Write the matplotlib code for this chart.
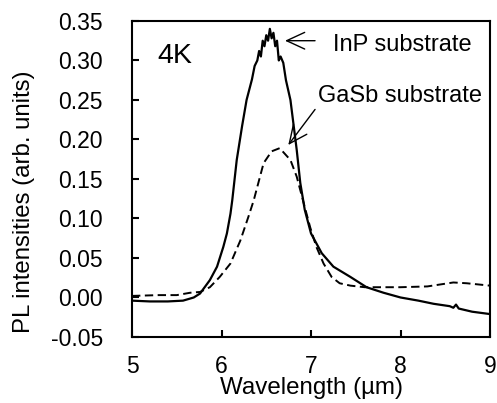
import matplotlib
matplotlib.use("Agg")
import matplotlib.pyplot as plt

plt.rcParams['font.family'] = ['Liberation Sans', 'DejaVu Sans']

# InP substrate (solid)
inpWl = [5.0, 5.2, 5.4, 5.57, 5.69, 5.76, 5.87, 5.95, 6.02, 6.06, 6.10, 6.12, 6.17, 6.23,
         6.28, 6.34, 6.37, 6.40, 6.42, 6.44, 6.46, 6.48, 6.50, 6.52, 6.54, 6.56, 6.58,
         6.60, 6.62, 6.64, 6.66, 6.69, 6.72, 6.77, 6.84, 6.88, 6.93, 7.0, 7.12, 7.25,
         7.44, 7.62, 7.81, 8.0, 8.2, 8.37, 8.55, 8.59, 8.62, 8.65, 8.8, 9.0]
inpPL = [-0.004, -0.005, -0.005, -0.004, 0.000, 0.005, 0.022, 0.039, 0.064, 0.081, 0.106,
         0.123, 0.174, 0.217, 0.250, 0.276, 0.293, 0.300, 0.312, 0.305, 0.325, 0.318,
         0.332, 0.325, 0.340, 0.328, 0.335, 0.318, 0.325, 0.300, 0.305, 0.297, 0.275,
         0.250, 0.187, 0.145, 0.111, 0.081, 0.056, 0.039, 0.026, 0.013, 0.006, 0.000,
         -0.004, -0.008, -0.011, -0.013, -0.009, -0.014, -0.018, -0.021]

# GaSb substrate (dashed)
gasbWl = [5.0, 5.3, 5.5, 5.65, 5.76, 5.87, 5.98, 6.10, 6.21, 6.30, 6.36, 6.47, 6.56, 6.65,
          6.77, 6.84, 6.91, 6.99, 7.06, 7.14, 7.23, 7.32, 7.44, 7.6, 8.0, 8.3, 8.59, 8.74,
          9.0]
gasbPL = [0.002, 0.003, 0.003, 0.006, 0.007, 0.013, 0.026, 0.043, 0.072, 0.102, 0.123,
          0.170, 0.185, 0.189, 0.174, 0.153, 0.123, 0.089, 0.064, 0.043, 0.026, 0.018,
          0.015, 0.013, 0.013, 0.014, 0.019, 0.018, 0.015]

yTicks = [-0.05, 0.00, 0.05, 0.10, 0.15, 0.20, 0.25, 0.30, 0.35]
xTicks = [5, 6, 7, 8, 9]

fig = plt.figure(figsize=(4.97, 4.03), dpi=100)
ax = fig.add_axes([0.2656, 0.1638, 0.7204, 0.7842])

ax.plot(inpWl, inpPL, color='black', lw=1.6)
ax.plot(gasbWl, gasbPL, color='black', lw=1.4, ls=(0, (4.3, 2.3)))

ax.set_xlim(5, 9)
ax.set_ylim(-0.05, 0.35)
ax.set_xticks(xTicks)
ax.set_yticks(yTicks)
ax.set_yticklabels(['%.2f' % v for v in yTicks])
ax.tick_params(direction='in', length=5, width=1.5, labelsize=16.5)
ax.tick_params(axis='x', pad=13)
ax.tick_params(axis='y', pad=21)
for s in ax.spines.values():
    s.set_linewidth(1.5)

ax.set_xlabel('Wavelength (µm)', fontsize=17.4, labelpad=-1)
ax.set_ylabel('PL intensities (arb. units)', fontsize=17.3)
ax.yaxis.set_label_coords(-0.27, 0.427)

ax.text(5.28, 0.2964, '4K', fontsize=20.5, va='baseline')
ax.text(7.25, 0.3117, 'InP substrate', fontsize=17, va='baseline')
ax.text(7.08, 0.247, 'GaSb substrate', fontsize=17, va='baseline')

arrowStyle = dict(arrowstyle='->,head_length=1.3,head_width=0.6', lw=1, color='black',
                  shrinkA=0, shrinkB=0)
ax.annotate('', xy=(6.709, 0.325), xytext=(7.045, 0.325), arrowprops=arrowStyle)
ax.annotate('', xy=(6.746, 0.193), xytext=(7.045, 0.238), arrowprops=arrowStyle)

fig.savefig('out.png', dpi=100)
